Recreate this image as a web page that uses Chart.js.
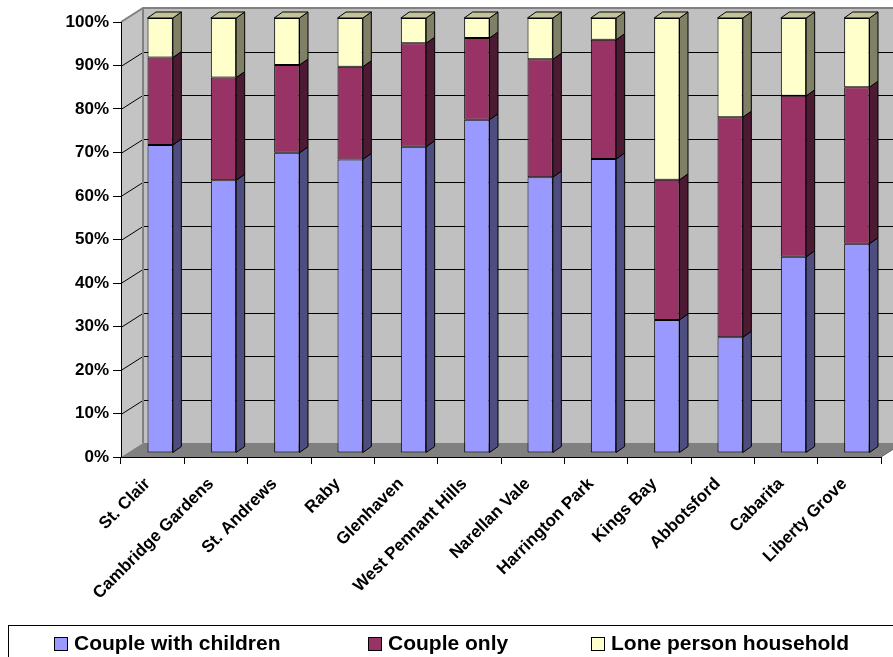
<!DOCTYPE html>
<html>
<head>
<meta charset="utf-8">
<script src="https://cdn.jsdelivr.net/npm/chart.js@4.4.1/dist/chart.umd.min.js"></script>
<style>
  body { margin: 0; background: #fff; }
  #wrap { position: relative; width: 893px; height: 657px; overflow: hidden; }
  #legend {
    position: absolute; left: 8px; top: 625px; width: 950px; height: 60px;
    border-top: 1px solid #000; border-left: 1px solid #000;
    font: bold 21px "Liberation Sans", Arial, sans-serif; color: #000;
  }
  #legend .item { position: absolute; top: 5px; line-height: 24px; white-space: nowrap; }
  #legend .box { display: inline-block; width: 12px; height: 12px; border: 1px solid #000; margin-right: 6px; vertical-align: -1px; }
</style>
</head>
<body>
<div id="wrap">
  <canvas id="chart" width="893" height="657"></canvas>
  <div id="legend"></div>
</div>
<script>
const categories = ['St. Clair', 'Cambridge Gardens', 'St. Andrews', 'Raby', 'Glenhaven', 'West Pennant Hills',
  'Narellan Vale', 'Harrington Park', 'Kings Bay', 'Abbotsford', 'Cabarita', 'Liberty Grove'];
const coupleWithChildren = [70.8, 62.7, 69.0, 67.5, 70.4, 76.6, 63.4, 67.6, 30.6, 26.6, 45.1, 48.1];
const coupleOnly = [20.1, 23.6, 20.2, 21.3, 23.8, 18.8, 27.1, 27.4, 32.2, 50.6, 37.0, 36.0];
const lonePerson = [9.1, 13.7, 10.8, 11.2, 5.8, 4.6, 9.5, 5.0, 37.2, 22.8, 17.9, 15.9];
const seriesNames = ['Couple with children', 'Couple only', 'Lone person household'];
const yMax = 100;
const yStep = 10;

// 3D look (excel style box + bars)
const WALL = { dx: 22, dy: -14 };
const SHIFT = { dx: 7.5, dy: -4 };
const BAR = { dx: 8.5, dy: -6 };
const sideColors = ['#4d4d80', '#4d1a33', '#808066'];
const topColor = '#c4c49a';

Chart.defaults.font.family = '"Liberation Sans", Arial, sans-serif';
Chart.defaults.font.weight = 'bold';
Chart.defaults.color = '#000';

function poly(ctx, pts, fill, stroke, lw) {
  ctx.beginPath();
  pts.forEach((p, i) => i ? ctx.lineTo(p[0], p[1]) : ctx.moveTo(p[0], p[1]));
  ctx.closePath();
  if (fill) { ctx.fillStyle = fill; ctx.fill(); }
  if (stroke) { ctx.strokeStyle = stroke; ctx.lineWidth = lw || 1; ctx.stroke(); }
}

const box3d = {
  id: 'box3d',
  beforeDraw(chart) {
    const { ctx, chartArea: a } = chart;
    const y = chart.scales.y;
    const wx = WALL.dx, wy = WALL.dy;
    ctx.save();
    // back wall, left wall, floor
    ctx.fillStyle = '#c0c0c0';
    ctx.fillRect(a.left + wx, a.top + wy, chart.width, a.height);
    poly(ctx, [[a.left, a.top], [a.left + wx, a.top + wy], [a.left + wx, a.bottom + wy], [a.left, a.bottom]], '#c4c4c4');
    poly(ctx, [[a.left, a.bottom], [a.right, a.bottom], [a.right + wx, a.bottom + wy], [a.left + wx, a.bottom + wy]], '#808080');

    // gridlines on walls
    ctx.strokeStyle = '#000';
    ctx.lineWidth = 1;
    y.ticks.forEach(t => {
      if (t.value <= 0 || t.value >= yMax) return;
      const py = Math.round(y.getPixelForValue(t.value)) + 0.5;
      ctx.beginPath();
      ctx.moveTo(a.left, py);
      ctx.lineTo(a.left + wx, py + wy);
      ctx.lineTo(chart.width, py + wy);
      ctx.stroke();
    });

    // wall edges
    ctx.strokeStyle = '#808080';
    ctx.lineWidth = 2;
    ctx.beginPath();
    ctx.moveTo(a.left, a.top);
    ctx.lineTo(a.left + wx, a.top + wy);
    ctx.lineTo(chart.width, a.top + wy);
    ctx.moveTo(a.left + wx, a.top + wy);
    ctx.lineTo(a.left + wx, a.bottom + wy);
    ctx.stroke();
    ctx.lineWidth = 1;
    ctx.strokeStyle = '#606060';
    ctx.beginPath();
    ctx.moveTo(a.right, a.bottom);
    ctx.lineTo(a.right + wx, a.bottom + wy);
    ctx.stroke();
    ctx.restore();
  },
  beforeDatasetsDraw(chart) {
    chart.ctx.save();
    chart.ctx.translate(SHIFT.dx, SHIFT.dy);
  },
  afterDatasetsDraw(chart) {
    const ctx = chart.ctx;
    const last = chart.data.datasets.length - 1;
    chart.data.datasets.forEach((ds, i) => {
      const meta = chart.getDatasetMeta(i);
      meta.data.forEach(bar => {
        const { x, y, base, width } = bar.getProps(['x', 'y', 'base', 'width'], true);
        const l = x - width / 2, r = x + width / 2;
        poly(ctx, [[r, y], [r + BAR.dx, y + BAR.dy], [r + BAR.dx, base + BAR.dy], [r, base]], sideColors[i], '#000', 1);
        if (i === last) {
          poly(ctx, [[l, y], [l + BAR.dx, y + BAR.dy], [r + BAR.dx, y + BAR.dy], [r, y]], topColor, '#000', 1);
        }
      });
    });
    ctx.restore();
  }
};

const frontColors = ['#9999ff', '#993366', '#ffffcc'];
const seriesData = [coupleWithChildren, coupleOnly, lonePerson];

const chart = new Chart(document.getElementById('chart'), {
  type: 'bar',
  data: {
    labels: categories,
    datasets: seriesNames.map((name, i) => ({
      label: name,
      data: seriesData[i],
      backgroundColor: frontColors[i],
      borderColor: '#000',
      borderWidth: 1,
      borderSkipped: false,
      barPercentage: 0.4,
      categoryPercentage: 1.0,
      clip: false
    }))
  },
  options: {
    responsive: false,
    animation: false,
    layout: { padding: { left: 0, right: 12, top: 22, bottom: 0 } },
    plugins: {
      legend: { display: false },
      tooltip: { enabled: false }
    },
    scales: {
      x: {
        stacked: true,
        border: { display: true, color: '#000', width: 1 },
        grid: { display: true, drawOnChartArea: false, drawTicks: true, tickLength: 7, color: '#000' },
        ticks: {
          autoSkip: false, maxRotation: 45, minRotation: 45,
          font: { size: 17, weight: 'bold' }, color: '#000', padding: 10, labelOffset: -5
        },
        afterFit(scale) { scale.height = 200; }
      },
      y: {
        stacked: true,
        min: 0,
        max: yMax,
        border: { display: true, color: '#000', width: 1 },
        grid: { display: true, drawOnChartArea: false, drawTicks: true, tickLength: 8, color: '#000' },
        ticks: {
          stepSize: yStep,
          callback: v => v + '%',
          font: { size: 17, weight: 'bold' }, color: '#000', padding: 4
        },
        afterFit(scale) { scale.width = 121; }
      }
    }
  },
  plugins: [box3d]
});

// legend below the plot, built from the datasets
const legendLeft = [45, 359, 582];
const legendEl = document.getElementById('legend');
chart.data.datasets.forEach((ds, i) => {
  const item = document.createElement('div');
  item.className = 'item';
  item.style.left = legendLeft[i] + 'px';
  item.innerHTML = '<span class="box" style="background:' + ds.backgroundColor + '"></span>' + ds.label;
  legendEl.appendChild(item);
});
</script>
</body>
</html>
